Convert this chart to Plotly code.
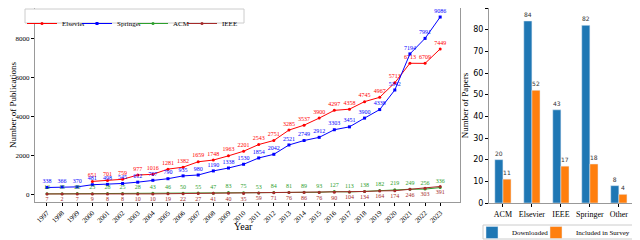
import plotly.graph_objects as go

years = list(range(1997, 2024))
elsevier_years = list(range(2000, 2024))
elsevier = [651, 701, 759, 977, 1016, 1281, 1382, 1659, 1748, 1963, 2201, 2543, 2751,
            3285, 3537, 3900, 4297, 4358, 4745, 4967, 5713, 6713, 6709, 7449]
springer = [338, 366, 370, 481, 498, 545, 612, 707, 790, 935, 980, 1190, 1338, 1530,
            1854, 2042, 2521, 2749, 2912, 3303, 3451, 3900, 4338, 5342, 7194, 7991, 9086]
acm = [12, 15, 26, 23, 28, 25, 28, 43, 46, 50, 55, 47, 83, 75, 53, 84, 81, 89, 93,
       127, 113, 138, 182, 219, 249, 256, 336]
ieee = [7, 2, 7, 9, 8, 8, 10, 10, 19, 22, 27, 41, 40, 35, 59, 71, 76, 86, 76, 90,
        104, 134, 164, 174, 246, 303, 391]

sources = ["ACM", "Elsevier", "IEEE", "Springer", "Other"]
downloaded = [20, 84, 43, 82, 8]
included = [11, 52, 17, 18, 4]

SERIF = "Liberation Serif"
SANS = "DejaVu Sans"
W, H = 640, 240

fig = go.Figure()

def line(x, y, name, color, symbol, pos, legend):
    fig.add_trace(go.Scatter(
        x=x, y=y, name=name, mode="lines+markers",
        line=dict(color=color, width=1),
        marker=dict(color=color, size=3, symbol=symbol),
        xaxis="x", yaxis="y", legend=legend, cliponaxis=False))
    fig.add_trace(go.Scatter(
        x=x, y=y, mode="markers+text", showlegend=False, hoverinfo="skip",
        marker=dict(size=3, color="rgba(0,0,0,0)"),
        text=[str(v) for v in y], textposition=pos,
        textfont=dict(family=SERIF, size=6, color=color),
        xaxis="x", yaxis="y", cliponaxis=False))

line(elsevier_years, elsevier, "Elsevier", "#ff0000", "circle", "top center", "legend")
line(years, springer, "Springer", "#0000ff", "square", "top center", "legend3")
line(years, acm, "ACM", "#2ca02c", "circle", "top center", "legend4")
line(years, ieee, "IEEE", "#a52a2a", "circle", "bottom center", "legend5")

fig.add_trace(go.Bar(x=sources, y=downloaded, name="Downloaded", marker_color="#1f77b4",
                     width=0.28, offset=-0.28,
                     text=[str(v) for v in downloaded], textposition="outside",
                     textfont=dict(family=SANS, size=6, color="#333"),
                     xaxis="x2", yaxis="y2", legend="legend2", cliponaxis=False))
fig.add_trace(go.Bar(x=sources, y=included, name="Included in Survey", marker_color="#ff7f0e",
                     width=0.28, offset=0.0,
                     text=[str(v) for v in included], textposition="outside",
                     textfont=dict(family=SANS, size=6, color="#333"),
                     xaxis="x2", yaxis="y2", legend="legend6", cliponaxis=False))

axis_common = dict(ticks="outside", ticklen=3, tickcolor="black", showline=True, mirror=True,
                   linecolor="#999999", linewidth=1.2, showgrid=False, zeroline=False,
                   automargin=False)

# the page body has an 8px margin, so figure coords = screen coords - 8
def leg(px, py):
    return dict(orientation="h", x=px / W, y=1 - py / H, xanchor="left", yanchor="top",
                xref="container", yref="container", bgcolor="rgba(0,0,0,0)",
                borderwidth=0, font=dict(family=SERIF, size=7), itemwidth=30)

Y_BOTTOM = 0.1917

fig.update_layout(
    width=W, height=H, margin=dict(l=0, r=0, t=0, b=0, autoexpand=False),
    paper_bgcolor="white", plot_bgcolor="white",
    font=dict(family=SERIF, size=8, color="black"),
    barmode="overlay",
    xaxis=dict(domain=[0.042, 0.706], range=[1996.2, 2024.3], tickmode="array",
               tickvals=years, ticktext=[str(y) for y in years], tickangle=-45,
               tickfont=dict(family=SERIF, size=7),
               anchor="y", **axis_common),
    yaxis=dict(domain=[Y_BOTTOM, 1.0], range=[-405, 9550], tickvals=[0, 2000, 4000, 6000, 8000],
               tickfont=dict(family=SERIF, size=7),
               title=dict(text="Number of Publications", font=dict(family=SERIF, size=9), standoff=2),
               anchor="x", **axis_common),
    xaxis2=dict(domain=[0.7516, 0.978], range=[-0.48, 4.52], tickfont=dict(family=SERIF, size=8),
                anchor="y2", **axis_common),
    yaxis2=dict(domain=[0.1875, 1.0], range=[0, 90], dtick=10,
                tickfont=dict(family=SANS, size=8),
                title=dict(text="Number of Papers", font=dict(family=SERIF, size=9), standoff=2),
                anchor="x2", **axis_common),
    legend=leg(14, 1), legend3=leg(69, 1), legend4=leg(125, 1), legend5=leg(174, 1),
    legend2=leg(464, 210), legend6=leg(528, 210),
    shapes=[
        dict(type="rect", xref="paper", yref="paper", x0=17 / W, x1=236 / W,
             y0=1 - 15 / H, y1=1 - 1 / H, line=dict(color="#cccccc", width=1),
             fillcolor="white", layer="above"),
        dict(type="rect", xref="paper", yref="paper", x0=475 / W, x1=630 / W,
             y0=1 - 231 / H, y1=1 - 217 / H, line=dict(color="#cccccc", width=1),
             fillcolor="white", layer="above"),
    ],
    annotations=[
        dict(text="Year", x=235 / W, y=1 - 218 / H, xref="paper", yref="paper",
             xanchor="center", yanchor="middle", showarrow=False,
             font=dict(family=SERIF, size=10))],
)

fig.write_html("out.html", config={"displayModeBar": False})
